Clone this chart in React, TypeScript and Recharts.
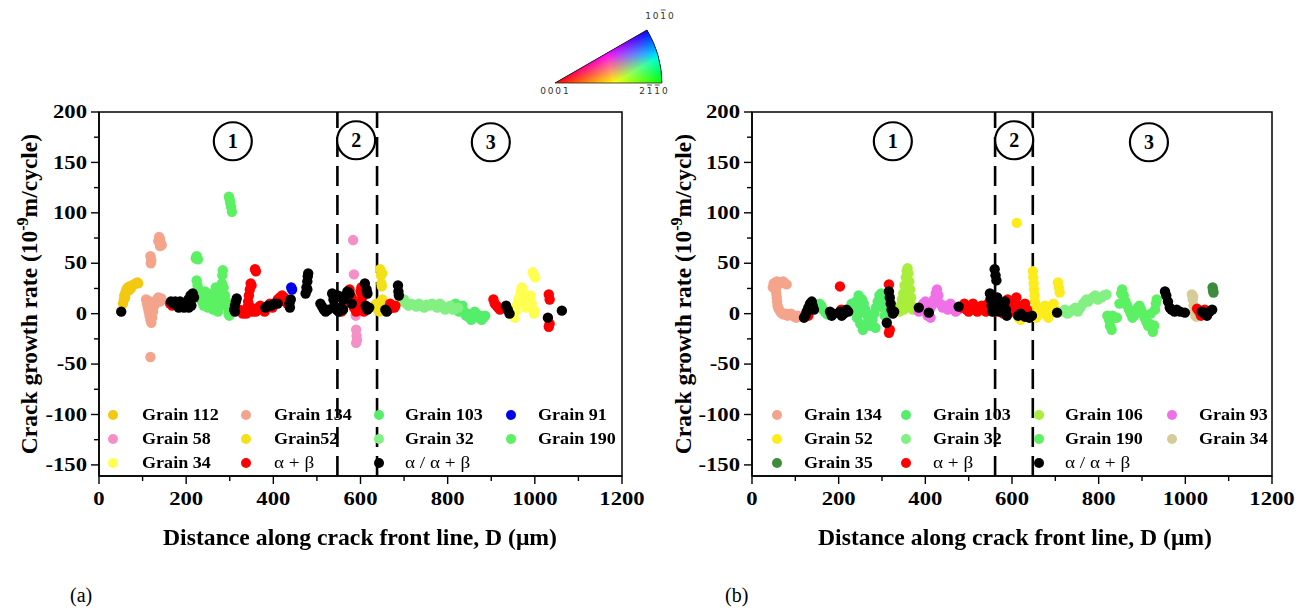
import React from 'react';
import { ScatterChart, Scatter, XAxis, YAxis, ReferenceLine, ReferenceDot, ReferenceArea } from 'recharts';

const FONT = '"Liberation Serif", "Times New Roman", serif';

// ---------- tick values ----------
const xTicks = [0, 100, 200, 300, 400, 500, 600, 700, 800, 900, 1000, 1100, 1200];
const yTicks = [-150, -125, -100, -75, -50, -25, 0, 25, 50, 75, 100, 125, 150, 175, 200];
const xDomain = [0, 1200];
const yDomain = [-161, 200];

// ---------- panel (a) data: [distance µm, rate 1e-9 m/cycle] ----------
const a_grain112 = [[55,10],[57,14],[58,18],[60,16],[61,21],[63,24],[66,26],[68,23],[70,27],[73,25],[76,28],[80,29],[84,30],[88,31],[90,30]];
const a_grain134 = [[108,14],[110,10],[112,6],[114,2],[116,-2],[118,-6],[120,-9],[122,-4],[124,2],[127,8],[130,12],[133,14],[136,16],[140,12],[143,15],[120,4],[125,10],[118,12],[118,-43],[118,57],[119,50],[120,53],[136,72],[138,76],[140,74],[142,70],[144,68],[140,67]];
const a_grain103 = [[818,10],[822,6],[826,2],[830,4],[834,8],[838,2],[842,-2],[846,0],[850,-4],[854,-6],[858,-2],[862,2],[866,0],[870,-4],[874,-2],[878,-6],[882,-4],[886,-2]];
const a_grain91 = [[441,26],[443,24]];
const a_grain58 = [[583,73],[585,39],[588,11],[588,5],[589,-2],[590,-16],[591,-22],[590,-29],[592,-26]];
const a_grain52 = [[645,44],[647,38],[648,30],[649,27],[650,40],[632,8],[636,10],[640,4],[644,2],[648,12],[650,14],[652,6]];
const a_grain32 = [[696,12],[700,14],[705,10],[710,8],[716,10],[722,9],[728,7],[734,10],[740,8],[746,6],[752,9],[758,8],[764,10],[770,8],[776,6],[782,10],[788,8],[794,4],[800,6],[806,8],[812,4],[818,5],[824,6]];
const a_grain190 = [[298,116],[300,113],[301,110],[303,106],[305,101],[222,55],[224,57],[227,54],[224,33],[226,28],[228,24],[230,20],[233,16],[236,12],[240,18],[243,22],[246,16],[250,12],[253,8],[256,14],[260,20],[263,16],[266,10],[270,6],[273,2],[276,8],[279,14],[281,22],[282,30],[283,38],[284,43],[286,26],[289,18],[292,12],[295,6],[297,0],[299,-2],[262,4],[250,6],[268,26],[240,8]];
const a_grain34 = [[954,-4],[956,2],[958,8],[962,14],[966,18],[968,22],[970,26],[972,24],[975,18],[978,12],[980,6],[984,8],[988,14],[990,18],[993,10],[996,4],[998,0],[1000,2],[995,41],[998,38],[1001,36]];
const a_alphaBeta = [[163,10],[168,8],[322,4],[326,2],[330,0],[335,2],[340,6],[342,12],[344,18],[346,24],[348,30],[350,28],[345,8],[355,4],[360,2],[365,6],[370,8],[375,4],[380,2],[385,6],[392,10],[398,6],[404,10],[410,14],[415,16],[420,18],[425,16],[428,12],[432,10],[358,44],[360,42],[352,2],[338,0],[556,2],[560,8],[565,14],[570,20],[575,24],[580,16],[585,6],[590,2],[595,10],[600,22],[602,26],[604,16],[606,6],[608,2],[664,4],[668,10],[672,6],[678,6],[680,8],[905,14],[908,10],[912,8],[916,6],[920,4],[1032,19],[1034,14],[1032,-13],[1034,-10]];
const a_alphaMixed = [[51,2],[165,12],[170,10],[175,12],[180,8],[183,6],[186,12],[190,10],[195,6],[200,10],[205,14],[210,18],[215,20],[218,16],[212,8],[206,6],[310,4],[312,8],[314,12],[316,15],[312,2],[382,6],[388,8],[395,8],[402,10],[410,10],[437,10],[440,14],[438,6],[474,20],[476,26],[478,32],[479,37],[480,40],[478,24],[508,10],[512,7],[516,4],[520,2],[526,4],[535,20],[538,14],[540,8],[545,4],[550,2],[555,6],[560,14],[565,18],[570,22],[575,20],[580,10],[560,4],[548,18],[610,30],[614,24],[616,20],[612,8],[616,4],[620,6],[657,4],[660,2],[686,28],[687,22],[688,18],[934,8],[938,4],[942,0],[1030,-4],[1062,3]];

// ---------- panel (b) data ----------
const b_grain134 = [[48,26],[50,30],[54,31],[58,32],[62,31],[66,30],[72,32],[76,30],[80,29],[55,24],[56,20],[57,16],[58,12],[59,8],[61,5],[64,3],[67,1],[70,0],[74,-1],[78,0],[82,-2],[86,-1],[90,0],[94,-2],[98,-3],[102,-4],[106,-2]];
const b_grain103 = [[153,6],[156,10],[160,8],[164,4],[168,2],[172,0],[176,-1],[230,10],[234,6],[238,2],[242,-4],[246,0],[250,8],[254,14],[258,10],[262,4],[266,-2],[270,-8],[274,-12],[278,-6],[282,0],[286,6],[290,12],[294,18],[298,20],[300,14],[303,6],[306,-2],[250,-10],[256,-16],[262,-12],[240,12],[246,18],[285,-14]];
const b_grain106 = [[340,2],[343,8],[346,14],[349,20],[352,28],[355,36],[357,42],[359,45],[361,40],[363,32],[365,24],[367,16],[369,8],[371,4],[350,4],[360,10],[356,18]];
const b_grain93 = [[385,2],[390,6],[395,10],[400,4],[405,-2],[410,4],[415,8],[420,14],[424,20],[427,24],[430,18],[434,10],[440,6],[446,8],[452,4],[458,10],[464,6],[470,2],[476,4],[400,12],[412,-4]];
const b_grain52 = [[611,90],[648,42],[649,36],[650,30],[651,24],[652,18],[653,12],[654,6],[655,0],[656,-4],[660,2],[664,6],[668,0],[672,4],[676,8],[680,2],[684,-4],[688,2],[692,6],[696,10],[700,4],[706,31],[708,26],[710,21],[640,-2],[644,0],[615,-4],[620,-6]];
const b_grain32 = [[718,2],[722,4],[728,0],[734,2],[740,4],[746,6],[752,2],[758,6],[764,10],[768,12],[772,14],[776,12],[786,16],[792,18],[798,14],[806,16],[812,18],[818,19]];
const b_grain190 = [[820,-2],[824,-6],[828,-4],[832,-2],[836,-4],[842,-4],[848,10],[852,20],[854,24],[858,18],[862,12],[866,8],[870,4],[874,0],[878,-4],[882,-2],[886,2],[890,6],[894,8],[898,4],[902,0],[906,-4],[910,-8],[914,-12],[918,-10],[922,-14],[925,-18],[928,-12],[930,4],[932,10],[934,14],[920,0],[826,-12],[830,-16]];
const b_grain34 = [[1015,19],[1017,14],[1019,8],[1021,2],[1023,-2],[1025,-3],[1018,17]];
const b_grain35 = [[1063,26],[1064,23],[1065,21]];
const b_alphaBeta = [[130,-2],[203,27],[206,4],[210,2],[316,29],[316,-19],[318,-16],[485,6],[490,10],[495,4],[500,2],[505,6],[510,10],[515,4],[520,2],[525,6],[530,8],[535,4],[540,2],[545,10],[550,14],[555,6],[560,2],[565,8],[570,12],[575,4],[580,0],[585,6],[590,14],[595,8],[600,2],[605,12],[610,16],[615,8],[620,2],[625,6],[630,10],[635,4],[1027,5],[1032,2],[1036,-2],[1040,0],[1045,4],[1050,-1]];
const b_alphaMixed = [[120,-4],[123,-2],[126,2],[130,6],[134,10],[138,12],[140,8],[143,4],[180,2],[184,-2],[188,0],[203,2],[207,-2],[212,0],[218,4],[222,2],[316,22],[318,16],[320,10],[322,4],[325,0],[328,2],[311,-9],[385,6],[408,1],[477,7],[549,20],[551,14],[553,8],[555,2],[557,10],[560,44],[562,38],[564,33],[566,16],[568,8],[570,2],[584,12],[586,4],[588,-2],[614,-2],[620,0],[630,-3],[640,-4],[646,-2],[704,1],[953,22],[956,18],[960,12],[964,6],[968,4],[975,2],[980,4],[988,2],[999,1],[1038,2],[1044,0],[1050,-2],[1056,2],[1062,4]];

// ---------- region boundaries and markers ----------
const a_boundaries = [547, 638];
const b_boundaries = [561, 648];
const a_regions = [{ x: 307, y: 171, label: '1' }, { x: 590, y: 172, label: '2' }, { x: 899, y: 170, label: '3' }];
const b_regions = [{ x: 325, y: 171, label: '1' }, { x: 605, y: 172, label: '2' }, { x: 916, y: 170, label: '3' }];

// ---------- colour-key labels ----------
const keyLabels = [
  { chars: ['1', '0', '1', '0'], bars: [2], x: 118, y: 19 },
  { chars: ['0', '0', '0', '1'], bars: [], x: 13, y: 94 },
  { chars: ['2', '1', '1', '0'], bars: [1, 2], x: 112, y: 94 },
];

const pts = (arr: number[][]) => arr.map(([x, y]) => ({ x, y }));

const seriesA = [
  { name: 'Grain 112', color: '#f2c811', data: a_grain112 },
  { name: 'Grain 134', color: '#f5a48c', data: a_grain134 },
  { name: 'Grain 103', color: '#55ee6a', data: a_grain103 },
  { name: 'Grain 91', color: '#0000ee', data: a_grain91 },
  { name: 'Grain 58', color: '#f590c6', data: a_grain58 },
  { name: 'Grain52', color: '#f2e118', data: a_grain52 },
  { name: 'Grain 32', color: '#82f082', data: a_grain32 },
  { name: 'Grain 190', color: '#5cf063', data: a_grain190 },
  { name: 'Grain 34', color: '#ffff50', data: a_grain34 },
  { name: 'α + β', color: '#ff0000', data: a_alphaBeta },
  { name: 'α / α + β', color: '#000000', data: a_alphaMixed },
];
const seriesB = [
  { name: 'Grain 134', color: '#f5a48c', data: b_grain134 },
  { name: 'Grain 103', color: '#55ee6a', data: b_grain103 },
  { name: 'Grain 106', color: '#a8ee3a', data: b_grain106 },
  { name: 'Grain 93', color: '#f070e8', data: b_grain93 },
  { name: 'Grain 52', color: '#fcec1c', data: b_grain52 },
  { name: 'Grain 32', color: '#82f082', data: b_grain32 },
  { name: 'Grain 190', color: '#5cf063', data: b_grain190 },
  { name: 'Grain 34', color: '#d6cc98', data: b_grain34 },
  { name: 'Grain 35', color: '#3c8c3c', data: b_grain35 },
  { name: 'α + β', color: '#ff0000', data: b_alphaBeta },
  { name: 'α / α + β', color: '#000000', data: b_alphaMixed },
];

const SX = 1.26; // horizontal stretch of the original figure's tick text

const YTick = (props: any) => {
  const { x, y, payload } = props;
  const major = payload.value % 50 === 0;
  return (
    <g>
      <line x1={x} x2={x - (major ? 8 : 5)} y1={y} y2={y} stroke="#000" strokeWidth={1.4} />
      {major && (
        <text transform={`translate(${x - 12},${y}) scale(${SX},1)`} textAnchor="end" dy="0.34em"
          fontFamily={FONT} fontWeight="bold" fontSize={18} fill="#000">{payload.value}</text>
      )}
    </g>
  );
};
const XTick = (props: any) => {
  const { x, y, payload } = props;
  const major = payload.value % 200 === 0;
  return (
    <g>
      <line x1={x} x2={x} y1={y} y2={y + (major ? 8 : 5)} stroke="#000" strokeWidth={1.4} />
      {major && (
        <text transform={`translate(${x},${y + 29}) scale(${SX},1)`} textAnchor="middle"
          fontFamily={FONT} fontWeight="bold" fontSize={18} fill="#000">{payload.value}</text>
      )}
    </g>
  );
};

type Panel = {
  left: number; mLeft: number; mRight: number;
  series: { name: string; color: string; data: number[][] }[];
  boundaries: number[]; regions: { x: number; y: number; label: string }[];
  legendMarkers: number[]; legendTexts: number[];
  yTitleX: number; xTitleCenter: number; tag: string; tagX: number;
};

const W = 656, H = 608;

function PanelChart({ p }: { p: Panel }) {
  return (
    <div style={{ position: 'absolute', left: p.left, top: 0, width: W, height: H }}>
      <ScatterChart width={W} height={H} margin={{ top: 112, right: p.mRight, bottom: 102, left: p.mLeft }}>
        <XAxis type="number" dataKey="x" domain={xDomain} ticks={xTicks} interval={0} height={30}
          tickSize={0} tickMargin={0} tick={<XTick />} axisLine={{ stroke: '#000', strokeWidth: 1.5 }} allowDataOverflow />
        <YAxis type="number" dataKey="y" domain={yDomain} ticks={yTicks} interval={0} width={60}
          tickSize={0} tickMargin={0} tick={<YTick />} axisLine={{ stroke: '#000', strokeWidth: 1.5 }} allowDataOverflow />
        <ReferenceArea x1={xDomain[0]} x2={xDomain[1]} y1={yDomain[0]} y2={yDomain[1]} fill="none" stroke="#000" strokeWidth={1.5} ifOverflow="visible" />
        {p.boundaries.map((b) => (
          <ReferenceLine key={b} x={b} stroke="#000" strokeWidth={2.6} strokeDasharray="20 9" />
        ))}
        {p.regions.map((r) => (
          <ReferenceDot key={r.label} x={r.x} y={r.y} r={19} fill="#fff" stroke="#000" strokeWidth={2.2}
            label={{ value: r.label, position: 'center', fontFamily: FONT, fontWeight: 'bold', fontSize: 20, fill: '#000' }} />
        ))}
        {p.series.map((s) => (
          <Scatter key={s.name} name={s.name} data={pts(s.data)} fill={s.color} isAnimationActive={false}
            shape={(sp: any) => <circle cx={sp.cx} cy={sp.cy} r={5.2} fill={s.color} />} />
        ))}
      </ScatterChart>
      {/* legend */}
      {p.series.map((s, i) => {
        const col = i % 4, row = Math.floor(i / 4);
        const cy = 414.5 + row * 24.3;
        const isAlpha = s.name.startsWith('α');
        return (
          <React.Fragment key={s.name + i}>
            <div style={{ position: 'absolute', left: p.legendMarkers[col] - p.left - 5, top: cy - 5, width: 10, height: 10, borderRadius: 5, background: s.color }} />
            <div style={{ position: 'absolute', left: p.legendTexts[col] - p.left, top: cy - 11, height: 22, lineHeight: '22px', whiteSpace: 'nowrap',
              fontFamily: FONT, fontSize: 16, fontWeight: isAlpha ? 'normal' : 'bold', transform: `scaleX(${isAlpha ? 1.2 : 1.13})`, transformOrigin: 'left center' }}>{s.name}</div>
          </React.Fragment>
        );
      })}
      {/* axis titles */}
      <div style={{ position: 'absolute', left: p.yTitleX - p.left - 200, top: 294 - 14, width: 400, height: 28, lineHeight: '28px', textAlign: 'center',
        fontFamily: FONT, fontWeight: 'bold', fontSize: 23.5, transform: 'rotate(-90deg)', whiteSpace: 'nowrap' }}>
        Crack growth rate (10<sup style={{ fontSize: 16, verticalAlign: 'super', lineHeight: 0 }}>-9</sup>m/cycle)
      </div>
      <div style={{ position: 'absolute', left: p.xTitleCenter - p.left - 300, top: 525, width: 600, textAlign: 'center', lineHeight: '26px',
        fontFamily: FONT, fontWeight: 'bold', fontSize: 23, whiteSpace: 'nowrap', transform: 'scaleX(1.03)' }}>
        Distance along crack front line, D (μm)
      </div>
      <div style={{ position: 'absolute', left: p.tagX - p.left, top: 582, lineHeight: '26px', fontFamily: FONT, fontSize: 20 }}>{p.tag}</div>
    </div>
  );
}

function ColorKey() {
  const tri = 'M25,83 L117,30 A106.5,106.5 0 0,1 132,83 Z';
  const stops = (c: string) => [
    <stop key="a" offset="0" stopColor="#000" />,
    <stop key="b" offset="0.18" stopColor={c} stopOpacity={1} style={{ stopColor: c }} />,
  ];
  return (
    <svg style={{ position: 'absolute', left: 530, top: 0 }} width={150} height={100}>
      <defs>
        <linearGradient id="gB" gradientUnits="userSpaceOnUse" x1={117} y1={83} x2={117} y2={30}>
          <stop offset="0" stopColor="#000" /><stop offset="0.55" stopColor="#0000ff" /><stop offset="1" stopColor="#0000ff" />
        </linearGradient>
        <linearGradient id="gG" gradientUnits="userSpaceOnUse" x1={105.3} y1={36.7} x2={132} y2={83}>
          <stop offset="0" stopColor="#000" /><stop offset="0.55" stopColor="#00ff00" /><stop offset="1" stopColor="#00ff00" />
        </linearGradient>
        <linearGradient id="gR" gradientUnits="userSpaceOnUse" x1={124.1} y1={55} x2={25} y2={83}>
          <stop offset="0" stopColor="#000" /><stop offset="0.45" stopColor="#ff0000" /><stop offset="1" stopColor="#ff0000" />
        </linearGradient>
      </defs>
      <g style={{ isolation: 'isolate' }}>
        <path d={tri} fill="#000" />
        <path d={tri} fill="url(#gR)" style={{ mixBlendMode: 'screen' }} />
        <path d={tri} fill="url(#gG)" style={{ mixBlendMode: 'screen' }} />
        <path d={tri} fill="url(#gB)" style={{ mixBlendMode: 'screen' }} />
      </g>
      <path d={tri} fill="none" stroke="#222" strokeWidth={0.8} />
      {keyLabels.map((l, li) => (
        <g key={li}>
          {l.chars.map((c, ci) => (
            <text key={ci} x={l.x + ci * 7.6} y={l.y} textAnchor="middle" fontFamily="DejaVu Sans" fontSize={9} fill="#333">{c}</text>
          ))}
          {l.bars.map((b) => (
            <line key={'b' + b} x1={l.x + b * 7.6 - 2.5} x2={l.x + b * 7.6 + 2.5} y1={l.y - 9} y2={l.y - 9} stroke="#333" strokeWidth={0.8} />
          ))}
        </g>
      ))}
    </svg>
  );
}

const panelA: Panel = {
  left: 0, mLeft: 39, mRight: 34, series: seriesA, boundaries: a_boundaries, regions: a_regions,
  legendMarkers: [113, 246, 379, 511], legendTexts: [142, 274, 405, 538],
  yTitleX: 29, xTitleCenter: 360, tag: '(a)', tagX: 70,
};
const panelB: Panel = {
  left: 656, mLeft: 36, mRight: 40, series: seriesB, boundaries: b_boundaries, regions: b_regions,
  legendMarkers: [777, 906, 1039, 1172], legendTexts: [804, 933, 1065, 1199],
  yTitleX: 683, xTitleCenter: 1015, tag: '(b)', tagX: 725,
};

export default function App() {
  return (
    <div style={{ position: 'absolute', left: 0, top: 0, width: 1312, height: 608, background: '#fff', overflow: 'hidden' }}>
      <PanelChart p={panelA} />
      <PanelChart p={panelB} />
      <ColorKey />
    </div>
  );
}
